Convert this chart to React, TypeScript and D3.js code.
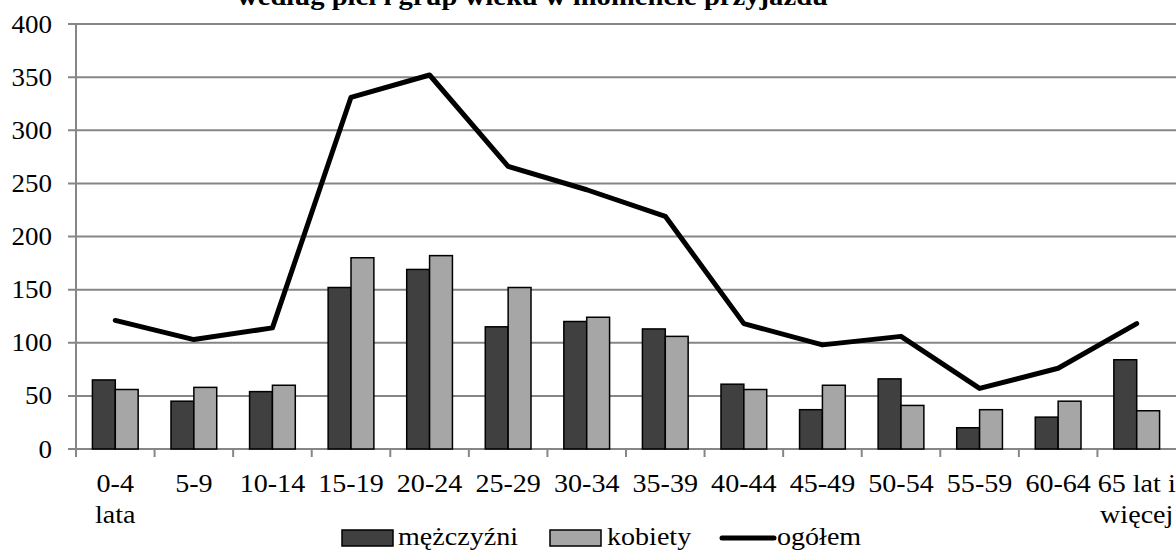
import React from "react";
import * as d3 from "d3";

const categories = ["0-4|lata", "5-9", "10-14", "15-19", "20-24", "25-29", "30-34", "35-39", "40-44", "45-49", "50-54", "55-59", "60-64", "65 lat i|więcej"];
const men = [65, 45, 54, 152, 169, 115, 120, 113, 61, 37, 66, 20, 30, 84];
const women = [56, 58, 60, 180, 182, 152, 124, 106, 56, 60, 41, 37, 45, 36];
const total = [121, 103, 114, 331, 352, 266, 244, 219, 118, 98, 106, 57, 76, 118];
const yTicks = [0, 50, 100, 150, 200, 250, 300, 350, 400];
const seriesNames = ["mężczyźni", "kobiety", "ogółem"];
const title = "według płci i grup wieku w momencie przyjazdu";

const W = 1176, H = 551;
const left = 76, right = 1176, top = 24, bottom = 449;
const gridColor = "#868686";
const darkFill = "#404040";
const lightFill = "#a6a6a6";
const font = '"Liberation Serif", "Times New Roman", Times, serif';
const ts: React.CSSProperties = { fontFamily: font };

export default function App() {
  const x = d3.scaleBand<string>().domain(categories).range([left, right]).paddingInner(0).paddingOuter(0);
  const bw = x.bandwidth();
  const groupW = bw * 0.582;
  const xs = d3.scaleBand<string>().domain(["m", "k"]).range([(bw - groupW) / 2, (bw + groupW) / 2]);
  const y = d3.scaleLinear().domain([0, 400]).range([bottom, top]);
  const cx = (c: string) => (x(c) as number) + bw / 2;
  const line = d3.line<number>().x((_, i) => cx(categories[i])).y((d) => y(d));

  const sx = 1.08;
  const boundaries = categories.map((c) => x(c) as number);

  return (
    <svg width={W} height={H} style={{ position: "absolute", left: 0, top: 0, background: "#fff" }}>
      <text x={532.5} y={5} textAnchor="middle" fontWeight="bold" fontSize={25} textLength={591} lengthAdjust="spacingAndGlyphs" style={ts}>{title}</text>
      {yTicks.map((t) => (
        <g key={t}>
          <line x1={68} x2={right} y1={y(t)} y2={y(t)} stroke={gridColor} strokeWidth={2} />
          <text transform={`translate(52,${y(t) + 8.5}) scale(${sx},1)`} textAnchor="end" fontSize={25} fill="#000" style={ts}>{t}</text>
        </g>
      ))}
      <line x1={left} x2={left} y1={top} y2={bottom} stroke={gridColor} strokeWidth={2} />
      {boundaries.map((b, i) => (
        <line key={i} x1={b} x2={b} y1={bottom} y2={bottom + 8} stroke={gridColor} strokeWidth={2} />
      ))}
      {categories.map((c, i) => (
        <g key={c}>
          <rect x={(x(c) as number) + (xs("m") as number)} y={y(men[i])} width={xs.bandwidth()} height={y(0) - y(men[i])} fill={darkFill} stroke="#000" strokeWidth={1.5} />
          <rect x={(x(c) as number) + (xs("k") as number)} y={y(women[i])} width={xs.bandwidth()} height={y(0) - y(women[i])} fill={lightFill} stroke="#000" strokeWidth={1.5} />
        </g>
      ))}
      <path d={line(total) as string} fill="none" stroke="#000" strokeWidth={5} strokeLinejoin="round" strokeLinecap="round" />
      {categories.map((c) => {
        const parts = c.split("|");
        return (
          <g key={"l" + c}>
            {parts.map((p, j) => (
              <text key={j} transform={`translate(${cx(c)},${492 + j * 31}) scale(${sx},1)`} textAnchor="middle" fontSize={26} fill="#000" style={ts}>{p}</text>
            ))}
          </g>
        );
      })}
      <g>
        <rect x={342} y={530} width={51} height={16} fill={darkFill} stroke="#000" strokeWidth={1.5} />
        <text transform={`translate(398,545) scale(${sx},1)`} fontSize={26} style={ts}>{seriesNames[0]}</text>
        <rect x={550} y={530} width={51} height={16} fill={lightFill} stroke="#000" strokeWidth={1.5} />
        <text transform={`translate(607,545) scale(${sx},1)`} fontSize={26} style={ts}>{seriesNames[1]}</text>
        <line x1={722} x2={774} y1={538} y2={538} stroke="#000" strokeWidth={5} strokeLinecap="round" />
        <text transform={`translate(777,545) scale(${sx},1)`} fontSize={26} style={ts}>{seriesNames[2]}</text>
      </g>
    </svg>
  );
}
